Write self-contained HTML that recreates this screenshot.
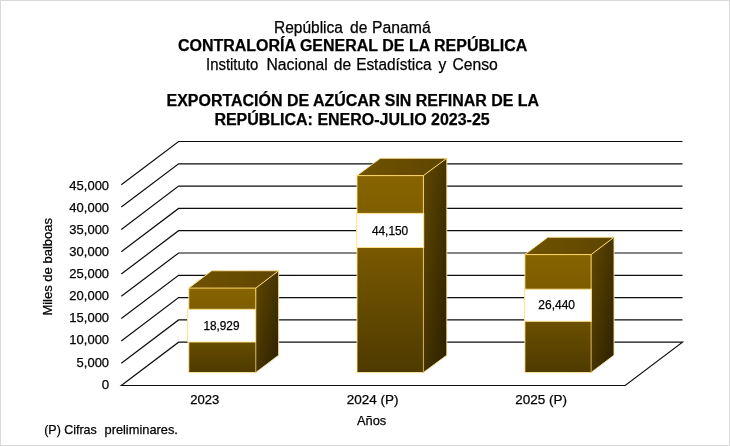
<!DOCTYPE html>
<html lang="es"><head><meta charset="utf-8"><title>Exportación de azúcar sin refinar</title>
<style>
html,body{margin:0;padding:0;background:#fff;}
body{width:730px;height:446px;overflow:hidden;position:relative;font-family:"Liberation Sans",Arial,sans-serif;}
svg{position:absolute;left:0;top:0;display:block;}
text{font-family:"Liberation Sans",Arial,sans-serif;fill:#000;stroke:#000;stroke-width:0.25;}
.b{font-weight:bold;}
</style></head><body>
<svg width="730" height="446" viewBox="0 0 730 446">
<defs>
<linearGradient id="gf" x1="0" y1="0" x2="0" y2="1"><stop offset="0" stop-color="#876400"/><stop offset="0.35" stop-color="#7a5a00"/><stop offset="1" stop-color="#4e3a00"/></linearGradient>
<linearGradient id="gs" x1="0" y1="0" x2="1" y2="1"><stop offset="0" stop-color="#624800"/><stop offset="1" stop-color="#2a1f00"/></linearGradient>
<linearGradient id="gt" x1="0" y1="0" x2="1" y2="0"><stop offset="0" stop-color="#705300"/><stop offset="1" stop-color="#5e4500"/></linearGradient>
<linearGradient id="ge0" gradientUnits="userSpaceOnUse" x1="0" y1="288.1" x2="0" y2="372.5"><stop offset="0" stop-color="#ffd966"/><stop offset="1" stop-color="#c9a84a"/></linearGradient>
<linearGradient id="ge1" gradientUnits="userSpaceOnUse" x1="0" y1="175.6" x2="0" y2="372.5"><stop offset="0" stop-color="#ffd966"/><stop offset="1" stop-color="#c9a84a"/></linearGradient>
<linearGradient id="ge2" gradientUnits="userSpaceOnUse" x1="0" y1="254.6" x2="0" y2="372.5"><stop offset="0" stop-color="#ffd966"/><stop offset="1" stop-color="#c9a84a"/></linearGradient>
</defs>
<rect x="0.5" y="0.5" width="729" height="445" fill="#fff" stroke="#d9d9d9" stroke-width="1"/>
<g fill="none" stroke="#0d0d0d" stroke-width="1.2" stroke-linejoin="miter">
<path d="M121.30 385.50L178.60 342.20L682.50 342.20L625.20 385.50Z"/>
<path d="M121.30 363.20L178.60 319.90L682.50 319.90"/>
<path d="M121.30 340.90L178.60 297.60L682.50 297.60"/>
<path d="M121.30 318.60L178.60 275.30L682.50 275.30"/>
<path d="M121.30 296.30L178.60 253.00L682.50 253.00"/>
<path d="M121.30 274.00L178.60 230.70L682.50 230.70"/>
<path d="M121.30 251.70L178.60 208.40L682.50 208.40"/>
<path d="M121.30 229.40L178.60 186.10L682.50 186.10"/>
<path d="M121.30 207.10L178.60 163.80L682.50 163.80"/>
<path d="M121.30 184.80L178.60 141.50L682.50 141.50"/>
</g>
<g>
<path fill="url(#gs)" d="M255.80 372.51L278.65 355.19L278.65 270.77L255.80 288.09Z"/>
<path fill="url(#gt)" d="M188.80 288.09L211.65 270.77L278.65 270.77L255.80 288.09Z"/>
<path fill="url(#gf)" d="M188.80 372.51L255.80 372.51L255.80 288.09L188.80 288.09Z"/>
<path fill="none" stroke="#ffe39a" stroke-width="0.9" stroke-linejoin="round" d="M188.80 372.51L255.80 372.51L278.65 355.19L278.65 270.77L211.65 270.77L188.80 288.09Z"/>
<path fill="none" stroke="#ffd966" stroke-width="1" stroke-linecap="round" d="M188.80 288.09L255.80 288.09L278.65 270.77"/>
<line x1="255.80" y1="288.09" x2="255.80" y2="372.51" stroke="url(#ge0)" stroke-width="1"/>
</g>
<g>
<path fill="url(#gs)" d="M423.40 372.51L446.80 355.19L446.80 158.28L423.40 175.60Z"/>
<path fill="url(#gt)" d="M357.00 175.60L380.40 158.28L446.80 158.28L423.40 175.60Z"/>
<path fill="url(#gf)" d="M357.00 372.51L423.40 372.51L423.40 175.60L357.00 175.60Z"/>
<path fill="none" stroke="#ffe39a" stroke-width="0.9" stroke-linejoin="round" d="M357.00 372.51L423.40 372.51L446.80 355.19L446.80 158.28L380.40 158.28L357.00 175.60Z"/>
<path fill="none" stroke="#ffd966" stroke-width="1" stroke-linecap="round" d="M357.00 175.60L423.40 175.60L446.80 158.28"/>
<line x1="423.40" y1="175.60" x2="423.40" y2="372.51" stroke="url(#ge1)" stroke-width="1"/>
</g>
<g>
<path fill="url(#gs)" d="M591.10 372.51L614.00 355.19L614.00 237.27L591.10 254.59Z"/>
<path fill="url(#gt)" d="M524.90 254.59L547.80 237.27L614.00 237.27L591.10 254.59Z"/>
<path fill="url(#gf)" d="M524.90 372.51L591.10 372.51L591.10 254.59L524.90 254.59Z"/>
<path fill="none" stroke="#ffe39a" stroke-width="0.9" stroke-linejoin="round" d="M524.90 372.51L591.10 372.51L614.00 355.19L614.00 237.27L547.80 237.27L524.90 254.59Z"/>
<path fill="none" stroke="#ffd966" stroke-width="1" stroke-linecap="round" d="M524.90 254.59L591.10 254.59L614.00 237.27"/>
<line x1="591.10" y1="254.59" x2="591.10" y2="372.51" stroke="url(#ge2)" stroke-width="1"/>
</g>
<rect x="187.6" y="309.3" width="67.9" height="32.7" fill="#fff" stroke="#ffe08a" stroke-width="1"/>
<rect x="356.7" y="213.4" width="67.0" height="34.1" fill="#fff" stroke="#ffe08a" stroke-width="1"/>
<rect x="524.7" y="289.2" width="66.6" height="32.1" fill="#fff" stroke="#ffe08a" stroke-width="1"/>
<text y="32.5" font-size="16"><tspan x="274.03" textLength="68.87" lengthAdjust="spacingAndGlyphs">República</tspan> <tspan x="350.07" textLength="17.35" lengthAdjust="spacingAndGlyphs">de</tspan> <tspan x="372.02" textLength="58.68" lengthAdjust="spacingAndGlyphs">Panamá</tspan></text>
<text x="177.9" y="50.6" font-size="16" class="b" textLength="349.46" lengthAdjust="spacingAndGlyphs">CONTRALORÍA GENERAL DE LA REPÚBLICA</text>
<text y="69.7" font-size="16"><tspan x="206.08" textLength="52.11" lengthAdjust="spacingAndGlyphs">Instituto</tspan> <tspan x="266.52" textLength="61.13" lengthAdjust="spacingAndGlyphs">Nacional</tspan> <tspan x="333.82" textLength="17.35" lengthAdjust="spacingAndGlyphs">de</tspan> <tspan x="356.14" textLength="75.37" lengthAdjust="spacingAndGlyphs">Estadística</tspan> <tspan x="438.4" textLength="7.8" lengthAdjust="spacingAndGlyphs">y</tspan> <tspan x="452.4" textLength="45.4" lengthAdjust="spacingAndGlyphs">Censo</tspan></text>
<text x="166.5" y="106.4" font-size="16" class="b" textLength="372.65" lengthAdjust="spacingAndGlyphs">EXPORTACIÓN DE AZÚCAR SIN REFINAR DE LA</text>
<text x="214.4" y="124.5" font-size="16" class="b" textLength="275.3" lengthAdjust="spacingAndGlyphs">REPÚBLICA: ENERO-JULIO 2023-25</text>
<text y="434.0" font-size="13.33"><tspan x="44.2" textLength="52.59" lengthAdjust="spacingAndGlyphs">(P) Cifras</tspan> <tspan x="104.5" textLength="73.38" lengthAdjust="spacingAndGlyphs">preliminares.</tspan></text>
<text x="190.3" y="404.2" font-size="13.33" textLength="29.1" lengthAdjust="spacingAndGlyphs">2023</text>
<text x="346.7" y="404.2" font-size="13.33" textLength="51.84" lengthAdjust="spacingAndGlyphs">2024 (P)</text>
<text x="515.2" y="404.2" font-size="13.33" textLength="51.84" lengthAdjust="spacingAndGlyphs">2025 (P)</text>
<text x="357.0" y="424.9" font-size="13.33" textLength="29.28" lengthAdjust="spacingAndGlyphs">Años</text>
<text x="203.4" y="330.0" font-size="12" textLength="36.08" lengthAdjust="spacingAndGlyphs">18,929</text>
<text x="371.9" y="235.2" font-size="12" textLength="36.28" lengthAdjust="spacingAndGlyphs">44,150</text>
<text x="538.3" y="309.2" font-size="12" textLength="36.67" lengthAdjust="spacingAndGlyphs">26,440</text>
<text x="101.7" y="388.6" font-size="13.33" textLength="7.41" lengthAdjust="spacingAndGlyphs">0</text>
<text x="76.55" y="366.5" font-size="13.33" textLength="32.55" lengthAdjust="spacingAndGlyphs">5,000</text>
<text x="69.32" y="344.4" font-size="13.33" textLength="39.79" lengthAdjust="spacingAndGlyphs">10,000</text>
<text x="69.32" y="322.3" font-size="13.33" textLength="39.79" lengthAdjust="spacingAndGlyphs">15,000</text>
<text x="69.32" y="300.2" font-size="13.33" textLength="39.79" lengthAdjust="spacingAndGlyphs">20,000</text>
<text x="69.32" y="278.1" font-size="13.33" textLength="39.79" lengthAdjust="spacingAndGlyphs">25,000</text>
<text x="69.32" y="256.0" font-size="13.33" textLength="39.79" lengthAdjust="spacingAndGlyphs">30,000</text>
<text x="69.32" y="233.9" font-size="13.33" textLength="39.79" lengthAdjust="spacingAndGlyphs">35,000</text>
<text x="69.32" y="211.8" font-size="13.33" textLength="39.79" lengthAdjust="spacingAndGlyphs">40,000</text>
<text x="69.32" y="189.7" font-size="13.33" textLength="39.79" lengthAdjust="spacingAndGlyphs">45,000</text>
<text transform="translate(52.4,315.6) rotate(-90)" font-size="13.33" textLength="97.6" lengthAdjust="spacingAndGlyphs">Miles de balboas</text>
</svg>
</body></html>
